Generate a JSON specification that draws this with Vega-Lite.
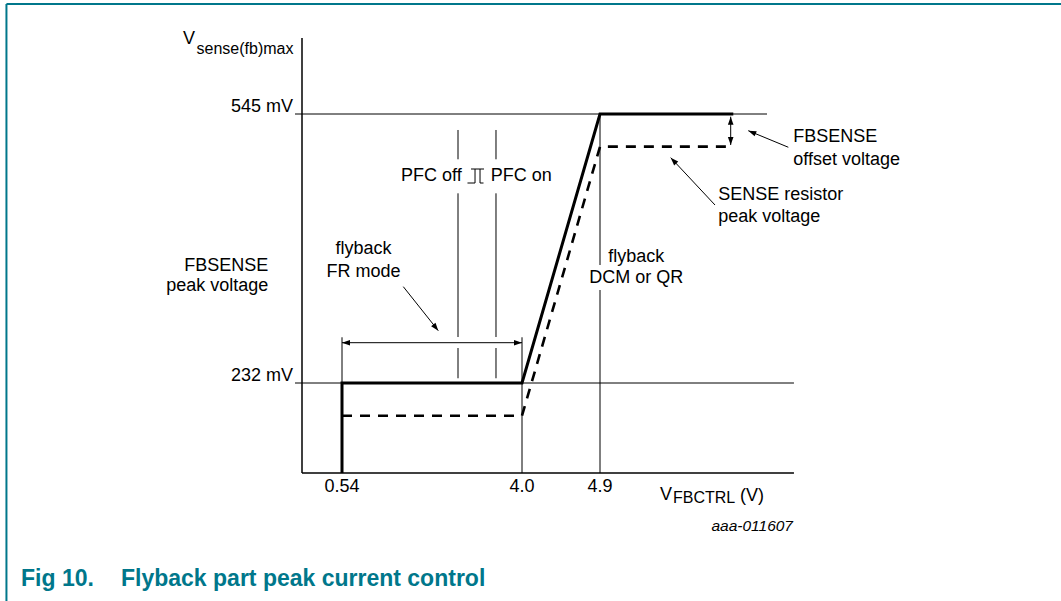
{
  "$schema": "https://vega.github.io/schema/vega-lite/v6.json",
  "width": 1061,
  "height": 601,
  "autosize": "none",
  "padding": 0,
  "background": "white",
  "config": {"view": {"stroke": null}, "font": "Liberation Sans", "text": {"font": "Liberation Sans"}},
  "datasets": {
    "frame": [
      {"x": -3.99, "y": 673.0, "x2": 10.4, "y2": 673.0},
      {"x": -3.99, "y": 673.0, "x2": -3.99, "y2": -360}
    ],
    "axes": [
      {"x": 0, "y": 0, "x2": 0, "y2": 633.4},
      {"x": 0, "y": 0, "x2": 7.138, "y2": 0}
    ],
    "thin": [
      {"x": -0.0945, "y": 545, "x2": 6.827, "y2": 545},
      {"x": -0.0945, "y": 232, "x2": 7.138, "y2": 232},
      {"x": 0.54, "y": 285.2, "x2": 0.54, "y2": 232},
      {"x": 4.0, "y": 285.2, "x2": 4.0, "y2": 0},
      {"x": 4.9, "y": 545, "x2": 4.9, "y2": 369.3},
      {"x": 4.9, "y": 340.2, "x2": 4.9, "y2": 0},
      {"x": 2.77, "y": 526.4, "x2": 2.77, "y2": 492.3},
      {"x": 2.77, "y": 452.7, "x2": 2.77, "y2": 285.5},
      {"x": 2.77, "y": 272.7, "x2": 2.77, "y2": 237.5},
      {"x": 3.5, "y": 526.4, "x2": 3.5, "y2": 492.3},
      {"x": 3.5, "y": 452.7, "x2": 3.5, "y2": 285.5},
      {"x": 3.5, "y": 272.7, "x2": 3.5, "y2": 237.5},
      {"x": 0.54, "y": 278.9, "x2": 4.0, "y2": 278.9},
      {"x": 6.408, "y": 541.9, "x2": 6.408, "y2": 508.9},
      {"x": 7.073, "y": 506.3, "x2": 6.611, "y2": 525.6},
      {"x": 6.227, "y": 439.1, "x2": 5.716, "y2": 494.2},
      {"x": 1.718, "y": 344.1, "x2": 2.391, "y2": 292.9},
      {"x": 2.952, "y": 464.7, "x2": 3.097, "y2": 464.7},
      {"x": 3.097, "y": 464.7, "x2": 3.097, "y2": 481.0},
      {"x": 3.02, "y": 481.0, "x2": 3.27, "y2": 481.0},
      {"x": 3.193, "y": 481.0, "x2": 3.193, "y2": 464.7},
      {"x": 3.193, "y": 464.7, "x2": 3.26, "y2": 464.7}
    ],
    "solid": [
      {"i": 0, "x": 0.54, "y": 0},
      {"i": 1, "x": 0.54, "y": 232},
      {"i": 2, "x": 4.0, "y": 232},
      {"i": 3, "x": 4.9, "y": 545},
      {"i": 4, "x": 6.438, "y": 545}
    ],
    "dashed": [
      {"i": 0, "x": 0.54, "y": 147.7},
      {"i": 1, "x": 4.0, "y": 147.7},
      {"i": 2, "x": 4.9, "y": 507.0},
      {"i": 3, "x": 6.438, "y": 507.0}
    ],
    "heads": [
      {"x": 0.54, "y": 278.9, "a": 270},
      {"x": 4.0, "y": 278.9, "a": 90},
      {"x": 6.408, "y": 541.9, "a": 0},
      {"x": 6.408, "y": 508.9, "a": 180},
      {"x": 6.611, "y": 525.6, "a": 292.5},
      {"x": 5.716, "y": 494.2, "a": 316.9},
      {"x": 2.391, "y": 292.9, "a": 141.5}
    ],
    "txtRight": [
      {"x": -0.1215, "y": 552.6, "t": "545 mV"},
      {"x": -0.1215, "y": 239.6, "t": "232 mV"},
      {"x": -0.455, "y": 368.1, "t": "FBSENSE"},
      {"x": -0.455, "y": 344.9, "t": "peak voltage"},
      {"x": 2.841, "y": 473.4, "t": "PFC off"}
    ],
    "txtCenter": [
      {"x": 0.54, "y": -35.3, "t": "0.54"},
      {"x": 4.0, "y": -35.3, "t": "4.0"},
      {"x": 4.9, "y": -35.3, "t": "4.9"},
      {"x": 0.953, "y": 387.9, "t": "flyback"},
      {"x": 0.953, "y": 361.5, "t": "FR mode"},
      {"x": 5.318, "y": 379.0, "t": "flyback"},
      {"x": 5.318, "y": 353.8, "t": "DCM or QR"}
    ],
    "txtLeft": [
      {"x": -1.6065, "y": 631.7, "t": "V"},
      {"x": 3.398, "y": 473.4, "t": "PFC on"},
      {"x": 5.592, "y": -56.7, "t": "V"},
      {"x": 6.515, "y": -58.0, "t": "(V)"},
      {"x": 7.13, "y": 517.7, "t": "FBSENSE"},
      {"x": 7.13, "y": 491.5, "t": "offset voltage"},
      {"x": 6.265, "y": 450.8, "t": "SENSE resistor"},
      {"x": 6.265, "y": 425.2, "t": "peak voltage"}
    ],
    "txtSub": [
      {"x": -1.424, "y": 620.6, "t": "sense(fb)max"},
      {"x": 5.742, "y": -64.4, "t": "FBCTRL"}
    ],
    "txtCode": [
      {"x": 7.127, "y": -137.9, "t": "aaa-011607"}
    ],
    "txtTitle": [
      {"x": -3.7935, "y": -274.5, "t": "Fig 10."},
      {"x": -2.4435, "y": -274.5, "t": "Flyback part peak current control"}
    ]
  },
  "encoding": {
    "x": {"field": "x", "type": "quantitative", "axis": null,
      "scale": {"domain": [0, 0.54, 4.0, 4.9], "range": [302, 342, 522, 600], "zero": false, "nice": false}},
    "y": {"field": "y", "type": "quantitative", "axis": null,
      "scale": {"domain": [0, 232, 545], "range": [473, 383, 114], "zero": false, "nice": false}}
  },
  "layer": [
    {
      "data": {"name": "frame"},
      "mark": {"type": "rule", "color": "#00778b", "strokeWidth": 2},
      "encoding": {"x2": {"field": "x2"}, "y2": {"field": "y2"}}
    },
    {
      "data": {"name": "axes"},
      "mark": {"type": "rule", "color": "#000000", "strokeWidth": 1.5},
      "encoding": {"x2": {"field": "x2"}, "y2": {"field": "y2"}}
    },
    {
      "data": {"name": "thin"},
      "mark": {"type": "rule", "color": "#000000", "strokeWidth": 1},
      "encoding": {"x2": {"field": "x2"}, "y2": {"field": "y2"}}
    },
    {
      "data": {"name": "dashed"},
      "mark": {"type": "line", "color": "#000000", "strokeWidth": 2.6, "strokeDash": [10, 8]},
      "encoding": {"order": {"field": "i", "type": "quantitative"}}
    },
    {
      "data": {"name": "solid"},
      "mark": {"type": "line", "color": "#000000", "strokeWidth": 3},
      "encoding": {"order": {"field": "i", "type": "quantitative"}}
    },
    {
      "data": {"name": "heads"},
      "mark": {"type": "point", "shape": "M0,0L-0.35,1L0.35,1Z", "size": 256, "filled": true, "color": "#000000", "opacity": 1, "strokeWidth": 0},
      "encoding": {"angle": {"field": "a", "type": "quantitative", "scale": null}}
    },
    {
      "data": {"name": "txtRight"},
      "mark": {"type": "text", "align": "right", "baseline": "middle", "fontSize": 18, "color": "#000000"},
      "encoding": {"text": {"field": "t"}}
    },
    {
      "data": {"name": "txtCenter"},
      "mark": {"type": "text", "align": "center", "baseline": "middle", "fontSize": 18, "color": "#000000"},
      "encoding": {"text": {"field": "t"}}
    },
    {
      "data": {"name": "txtLeft"},
      "mark": {"type": "text", "align": "left", "baseline": "middle", "fontSize": 18, "color": "#000000"},
      "encoding": {"text": {"field": "t"}}
    },
    {
      "data": {"name": "txtSub"},
      "mark": {"type": "text", "align": "left", "baseline": "middle", "fontSize": 16, "color": "#000000"},
      "encoding": {"text": {"field": "t"}}
    },
    {
      "data": {"name": "txtCode"},
      "mark": {"type": "text", "align": "right", "baseline": "middle", "fontSize": 15.5, "fontStyle": "italic", "color": "#000000"},
      "encoding": {"text": {"field": "t"}}
    },
    {
      "data": {"name": "txtTitle"},
      "mark": {"type": "text", "align": "left", "baseline": "middle", "fontSize": 23, "fontWeight": "bold", "color": "#00778b"},
      "encoding": {"text": {"field": "t"}}
    }
  ]
}
